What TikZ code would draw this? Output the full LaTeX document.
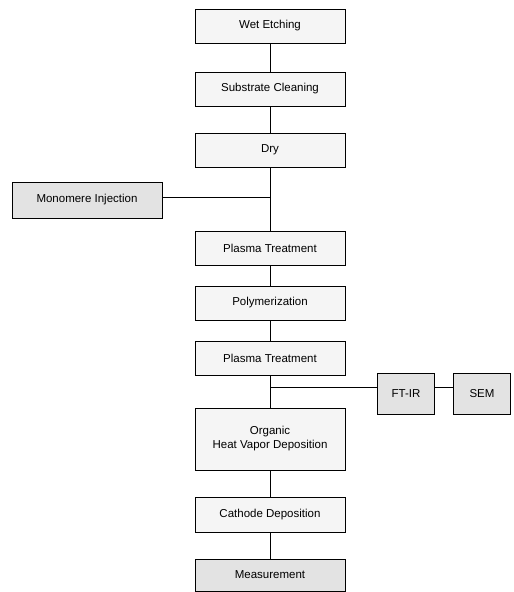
\documentclass[tikz,border=0pt]{standalone}
\usepackage{fontspec}
\setmainfont{Liberation Sans}
\usepackage{tikz}
\usetikzlibrary{
	positioning,    % posizionamento relativo
	calc            % coordinate calcolate
}

\begin{document}
\begin{tikzpicture}[
				x=1pt, y=-1pt,
				line width=0.9pt,
				fase/.style={draw, fill=gray!8, minimum width=150pt, minimum height=34pt,
					inner sep=0pt, align=center, font=\fontsize{11.5}{14}\selectfont},
				fasescura/.style={fase, fill=gray!22},
				analisi/.style={fasescura, minimum width=57pt, minimum height=41pt}
				]
				
				% --- Cornice ---
				\useasboundingbox (0,0) rectangle (514,592);
				
				% --- Fasi del processo ---
				\node[fase] (wet) at (270,26) {Wet Etching};
				\node[fase] (sub) at (270,89) {Substrate Cleaning};
				\node[fase] (dry) at (270,150) {Dry};
				\node[fasescura, minimum height=36pt] (mono) at (87,200) {Monomere Injection};
				\node[fase] (pl1) at (270,248) {Plasma Treatment};
				\node[fase] (poly) at (270,303) {Polymerization};
				\node[fase] (pl2) at (270,358) {Plasma Treatment};
				\node[fase, minimum height=62pt] (org) at (270,439) {Organic\\Heat Vapor Deposition};
				\node[fase, minimum height=35pt] (cat) at (270,515) {Cathode Deposition};
				\node[fasescura, minimum height=32pt] (mis) at (270,575) {Measurement};
				
				% --- Analisi ---
				\node[analisi] (ftir) at (406,394) {FT-IR};
				\node[analisi] (sem) at (482,394) {SEM};
				
				% --- Collegamenti ---
				\coordinate (J1) at (270,197);
				\coordinate (J2) at (270,387);
				\draw (wet) -- (sub);
				\draw (sub) -- (dry);
				\draw (dry) -- (pl1);
				\draw (mono.east |- J1) -- (J1);
				\draw (pl1) -- (poly);
				\draw (poly) -- (pl2);
				\draw (pl2) -- (org);
				\draw (J2) -- (J2 -| ftir.west);
				\draw (J2 -| ftir.east) -- (J2 -| sem.west);
				\draw (org) -- (cat);
				\draw (cat) -- (mis);
				
			\end{tikzpicture}
\end{document}
